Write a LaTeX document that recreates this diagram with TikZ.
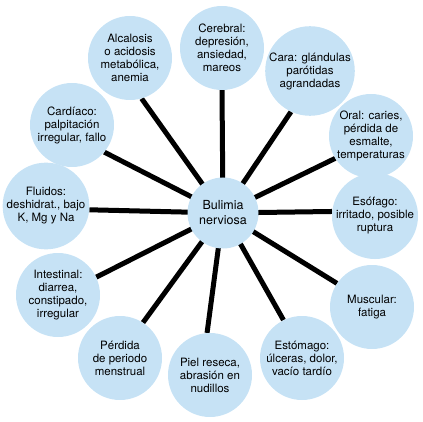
\documentclass[tikz,border=0pt]{standalone}
\usepackage{fontspec}
\setmainfont{TeX Gyre Heros}
\definecolor{bubfill}{RGB}{198,226,245}
\pgfdeclarelayer{bg}
\pgfsetlayers{bg,main}
\begin{document}
\begin{tikzpicture}[x=1pt,y=-1pt,
  bub/.style={circle,fill=bubfill,minimum size=84pt,inner sep=0pt,align=center,
    font=\fontsize{11.5}{13}\selectfont},
  hub/.style={circle,fill=bubfill,minimum size=71pt,inner sep=0pt,align=center,
    font=\fontsize{12.5}{15}\selectfont},
  spoke/.style={line width=5pt,black}]
\useasboundingbox (0,0) rectangle (423,422);
\node[hub] (c) at (223,213) {Bulimia\\nerviosa};
\node[bub] (o1) at (130,58) {Alcalosis\\o acidosis\\metabólica,\\anemia};
\node[bub] (o2) at (222,48) {Cerebral:\\depresión,\\ansiedad,\\mareos};
\node[bub] (o3) at (310,71) {Cara: glándulas\\parótidas\\agrandadas};
\node[bub] (o4) at (371,136) {Oral: caries,\\pérdida de\\esmalte,\\temperaturas};
\node[bub] (o5) at (375,216) {Esófago:\\irritado, posible\\ruptura};
\node[bub] (o6) at (372,307) {Muscular:\\fatiga};
\node[bub] (o7) at (302,358) {Estómago:\\úlceras, dolor,\\vacío tardío};
\node[bub] (o8) at (210,375) {Piel reseca,\\abrasión en\\nudillos};
\node[bub] (o9) at (120,358) {Pérdida\\de periodo\\menstrual};
\node[bub] (o10) at (58,295) {Intestinal:\\diarrea,\\constipado,\\irregular};
\node[bub] (o11) at (46,206) {Fluidos:\\deshidrat., bajo\\K, Mg y Na};
\node[bub] (o12) at (72,125) {Cardíaco:\\palpitación\\irregular, fallo};
\begin{pgfonlayer}{bg}
\draw[spoke] (c.center) -- (o1.-74);
\draw[spoke] (c.center) -- (o2.-90);
\draw[spoke] (c.center) -- (o3.-115);
\draw[spoke] (c.center) -- (o4.-148);
\draw[spoke] (c.center) -- (o5.174);
\draw[spoke] (c.center) -- (o6.146);
\draw[spoke] (c.center) -- (o7.116);
\draw[spoke] (c.center) -- (o8.94);
\draw[spoke] (c.center) -- (o9.57);
\draw[spoke] (c.center) -- (o10.25);
\draw[spoke] (c.center) -- (o11.-5);
\draw[spoke] (c.center) -- (o12.-40);
\end{pgfonlayer}
\end{tikzpicture}
\end{document}
